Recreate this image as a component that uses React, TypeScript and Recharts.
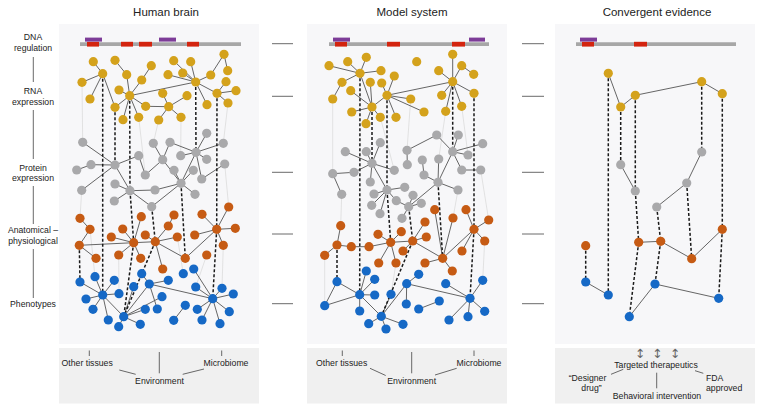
import { ScatterChart, Scatter, XAxis, YAxis, ReferenceArea, ReferenceLine } from 'recharts'

type XY = [number, number]
type Link = [number, number]
type Layer = 'rna' | 'prot' | 'anat' | 'pheno'
type Bridge = [Layer, number, Layer, number]

// ---- text ----
const panelTitles = ['Human brain', 'Model system', 'Convergent evidence']
const levelLabels = [['DNA', 'regulation'], ['RNA', 'expression'], ['Protein', 'expression'], ['Anatomical –', 'physiological'], ['Phenotypes']]
const contextLabels = ['Other tissues', 'Environment', 'Microbiome']
const therapyLabels = ['Targeted therapeutics', 'Behavioral intervention', '“Designer', 'drug”', 'FDA', 'approved']

// ---- DNA tracks: [start, end] along the strand ----
const humanDna = { strand: [80, 241] as XY, enhancers: [[85, 102], [159, 176]] as XY[], variants: [[87, 99], [121, 133], [139, 152], [187, 199]] as XY[] }
const modelDna = { strand: [329, 489] as XY, enhancers: [[333, 350], [469, 485]] as XY[], variants: [[335, 347], [387, 400], [452, 465]] as XY[] }
const convDna = { strand: [576, 736] as XY, enhancers: [[580, 597]] as XY[], variants: [[582, 594], [634, 647]] as XY[] }

// ---- human brain network ----
const humanRna: XY[] = [
  [93.3, 61.7], [102.7, 73.7], [82, 82.3], [90, 99], [115, 60.3], [126.7, 74.7], [151.3, 65.7], [141.7, 80],
  [119, 90], [129.7, 95.7], [115, 107.3], [123, 119.7], [138.7, 117.3], [145.7, 106.3], [162.7, 93.3], [168.7, 106.7],
  [187, 95.7], [181, 117.3], [158.7, 120], [173.7, 60.7], [190.7, 61.7], [168, 74.7], [182.7, 73], [195.7, 82],
  [210.7, 75], [224, 54.3], [227.7, 70.7], [226, 81.7], [217, 93.3], [236, 90.7], [228, 103], [207, 104.7],
]
const humanProt: XY[] = [
  [82.7, 142.3], [76.7, 170], [91, 164.7], [81.7, 190.3], [115, 165], [138.7, 155.7], [115, 184], [114.3, 201],
  [130, 190.7], [145.3, 175], [153.3, 143.3], [170, 142.3], [162.7, 159.7], [174, 170.3], [155, 190], [151.7, 206.7],
  [181, 183.3], [195, 194.3], [193.3, 170.3], [180.7, 155.7], [196, 152.3], [206.7, 133.3], [223.3, 143.3], [206.7, 159.3],
  [201.7, 179], [224.7, 164],
]
const humanAnat: XY[] = [
  [80, 218.3], [90, 229.3], [79.3, 245.3], [96, 258.3], [111.3, 237], [122.7, 229], [118.7, 255], [141.3, 216.7],
  [145.3, 235], [133.7, 242.7], [140.7, 258.3], [155.3, 241.7], [168.3, 226], [174, 215], [177.3, 237], [162.7, 269],
  [185.3, 258.3], [202, 214.3], [194.7, 235], [216.7, 229.3], [228.7, 207], [235.3, 228.3], [223.3, 245.3], [206.7, 255],
]
const humanPheno: XY[] = [
  [80, 282], [95, 276.7], [114.3, 280.3], [102.7, 295], [86, 299], [93, 309.3], [108.3, 320], [119, 293.7],
  [123.7, 316.7], [118.7, 326.7], [140.3, 324.3], [145.3, 309.3], [133.7, 286.7], [141.7, 273.7], [149.3, 284], [168.3, 280.3],
  [162, 296.7], [157.3, 309], [183.3, 273.7], [193.7, 269], [195.7, 287], [212.7, 298.7], [222, 288.3], [233.3, 294],
  [229.3, 311.7], [220, 323.7], [202, 320], [197.3, 309.3], [185.3, 305.3], [173.7, 320.3],
]
const humanLinks: Record<Layer, Link[]> = {
  rna: [[1, 0], [1, 2], [1, 3], [1, 10], [4, 5], [5, 9], [6, 7], [7, 9], [8, 9], [9, 10], [9, 11], [9, 12], [9, 13], [9, 23], [13, 15],
    [15, 14], [15, 16], [15, 17], [15, 18], [23, 19], [23, 20], [23, 21], [23, 22], [23, 24], [23, 28], [23, 31], [24, 25], [25, 26],
    [28, 27], [28, 29], [28, 30]],
  prot: [[4, 0], [4, 2], [2, 1], [4, 3], [4, 5], [4, 8], [8, 6], [8, 7], [8, 14], [8, 15], [5, 9], [9, 12], [12, 10], [12, 11],
    [12, 16], [16, 13], [16, 14], [16, 15], [16, 17], [16, 18], [16, 20], [20, 19], [20, 21], [20, 22], [20, 23], [20, 11], [20, 24], [24, 25]],
  anat: [[2, 1], [1, 0], [2, 3], [2, 9], [9, 4], [9, 5], [9, 6], [9, 7], [9, 10], [9, 11], [11, 8], [11, 12], [12, 13], [11, 14],
    [11, 15], [11, 16], [16, 19], [19, 17], [19, 18], [19, 20], [19, 21], [19, 22]],
  pheno: [[3, 0], [3, 1], [3, 2], [3, 4], [3, 5], [3, 6], [3, 7], [3, 8], [8, 9], [8, 10], [8, 11], [8, 12], [8, 14], [8, 16],
    [14, 13], [14, 15], [14, 17], [14, 21], [21, 19], [21, 20], [21, 22], [21, 23], [21, 24], [21, 25], [21, 26], [21, 27], [28, 29]],
}
const humanBridges: Bridge[] = [
  ['rna', 1, 'pheno', 3], ['rna', 10, 'prot', 4], ['rna', 9, 'prot', 8], ['prot', 8, 'anat', 9], ['anat', 9, 'pheno', 8],
  ['prot', 15, 'anat', 11], ['anat', 11, 'pheno', 8], ['rna', 23, 'prot', 20], ['prot', 16, 'anat', 16], ['rna', 28, 'anat', 19],
  ['anat', 19, 'pheno', 21], ['anat', 2, 'pheno', 0],
]
const humanFaint: Bridge[] = [
  ['rna', 2, 'prot', 0], ['prot', 3, 'anat', 0], ['rna', 18, 'prot', 10], ['rna', 17, 'prot', 19], ['rna', 30, 'prot', 22],
  ['prot', 25, 'anat', 20], ['anat', 1, 'pheno', 1], ['anat', 22, 'pheno', 22], ['anat', 23, 'pheno', 20], ['anat', 14, 'pheno', 18],
  ['anat', 6, 'pheno', 7], ['rna', 12, 'prot', 9],
]

// ---- model system network ----
const modelRna: XY[] = [
  [329, 65.7], [347.7, 61.7], [366.3, 57.3], [360, 73.3], [381, 70.7], [342, 82.3], [332.7, 99], [350.7, 90.7],
  [370.3, 82.3], [381.7, 83], [394.3, 76], [387, 95.3], [372, 107], [351.7, 112], [366, 123.7], [380.3, 117.3],
  [396, 117.3], [410.7, 99], [424, 112], [416.7, 61.7], [438.7, 70.7], [452.7, 54.3], [461.7, 65.7], [473.7, 74.3],
  [452.7, 81.7], [474, 93.3], [441.7, 95.3], [445.7, 111.3], [461.7, 106.3],
]
const modelProt: XY[] = [
  [345.3, 151.7], [332.7, 173.7], [341.7, 194.3], [354, 172.3], [366.3, 151.7], [380.3, 142.7], [372, 163.3], [394.3, 170.3],
  [370.3, 182], [387, 190], [374, 194], [371.7, 205.3], [380, 213.7], [396.3, 200.7], [404.7, 187.3], [408.7, 206.7],
  [413, 195.3], [421.3, 203.3], [402, 218.3], [407, 150.3], [407.3, 164.7], [436.7, 135], [422.3, 160], [424, 175],
  [438.7, 159], [438, 182.3], [458, 190], [452.7, 151.7], [458.3, 135], [482.7, 143.7], [468, 155], [461.7, 170], [480.7, 170],
]
const modelAnat: XY[] = [
  [340.7, 225.7], [337, 245], [324.7, 255.3], [351.3, 246.7], [369, 246.7], [378, 234.3], [390.7, 242.3], [401.3, 231.7],
  [378.7, 263], [396, 263], [403, 251], [412.7, 241], [425, 222], [426.3, 237], [442.7, 258.3], [434.7, 209.7],
  [453, 218], [425, 263], [452.3, 271], [462, 251], [474, 229.3], [466, 209.7], [488.7, 220], [484.7, 241],
]
const modelPheno: XY[] = [
  [337, 281.7], [324.7, 305.7], [359.7, 294.7], [366.3, 271], [374.7, 279.3], [374.7, 295], [359.7, 311], [381.3, 316.3],
  [368.7, 323.7], [386, 329], [403, 324.3], [391, 294.3], [406.7, 283.7], [418.7, 274.3], [406.3, 304], [418.7, 309],
  [439.3, 301], [445.7, 283.7], [470, 298.3], [482.7, 280.3], [484.7, 311.3], [468, 316.7], [449, 320],
]
const modelLinks: Record<Layer, Link[]> = {
  rna: [[3, 0], [3, 1], [3, 2], [3, 4], [3, 5], [5, 6], [3, 12], [12, 7], [12, 8], [12, 13], [12, 14], [12, 15], [12, 11], [11, 9],
    [11, 10], [11, 16], [11, 17], [11, 18], [11, 24], [24, 20], [24, 21], [24, 22], [22, 23], [24, 25], [24, 26], [24, 27], [24, 28]],
  prot: [[6, 0], [6, 4], [6, 5], [6, 3], [3, 1], [1, 2], [6, 7], [6, 8], [6, 9], [9, 10], [9, 11], [9, 12], [9, 13], [9, 14],
    [15, 13], [15, 16], [15, 17], [15, 18], [15, 25], [19, 20], [19, 21], [21, 27], [22, 23], [23, 25], [25, 24], [25, 26], [25, 27],
    [27, 28], [27, 29], [27, 30], [27, 31], [31, 32]],
  anat: [[1, 0], [1, 2], [1, 3], [3, 4], [4, 6], [6, 5], [6, 7], [6, 8], [6, 9], [6, 11], [11, 10], [11, 12], [11, 13], [11, 14],
    [14, 15], [14, 16], [14, 17], [14, 18], [14, 20], [20, 19], [20, 21], [20, 22], [20, 23]],
  pheno: [[0, 1], [0, 2], [1, 2], [2, 3], [2, 4], [2, 5], [2, 6], [2, 7], [7, 8], [7, 9], [7, 10], [7, 11], [7, 12], [12, 13],
    [12, 14], [15, 16], [12, 18], [18, 17], [18, 19], [18, 20], [18, 21], [18, 22]],
}
const modelBridges: Bridge[] = [
  ['rna', 3, 'pheno', 2], ['rna', 12, 'prot', 6], ['rna', 11, 'prot', 9], ['prot', 9, 'anat', 6], ['prot', 15, 'anat', 11],
  ['anat', 11, 'pheno', 7], ['rna', 24, 'prot', 27], ['rna', 25, 'anat', 20], ['anat', 20, 'pheno', 18], ['prot', 25, 'anat', 14],
  ['anat', 1, 'pheno', 0],
]
const modelFaint: Bridge[] = [
  ['rna', 6, 'prot', 1], ['prot', 2, 'anat', 0], ['rna', 17, 'prot', 19], ['rna', 27, 'prot', 24], ['rna', 28, 'prot', 30],
  ['prot', 32, 'anat', 22], ['anat', 23, 'pheno', 19], ['anat', 17, 'pheno', 13], ['anat', 2, 'pheno', 1], ['anat', 9, 'pheno', 11],
  ['prot', 26, 'anat', 16], ['rna', 15, 'prot', 7],
]

// ---- convergent evidence ----
const convRna: XY[] = [[608.3, 73.3], [620.7, 107], [635.3, 95.3], [701.7, 81.7], [722.3, 93.7]]
const convProt: XY[] = [[620.7, 164.7], [635.3, 191], [656.7, 207], [686.7, 183], [701.7, 152]]
const convAnat: XY[] = [[585.7, 245.7], [638.7, 242.3], [660.7, 241.3], [691.7, 258.7], [722.3, 229.3]]
const convPheno: XY[] = [[585.7, 282], [608.3, 295], [629.3, 316.7], [655, 284], [718.7, 298.3]]
const convLinks: Record<Layer, Link[]> = {
  rna: [[0, 1], [1, 2], [2, 3], [3, 4]],
  prot: [[0, 1], [2, 3], [3, 4]],
  anat: [[1, 2], [2, 3], [3, 4]],
  pheno: [[0, 1], [2, 3], [3, 4]],
}
const convBridges: Bridge[] = [
  ['rna', 0, 'pheno', 1], ['rna', 1, 'prot', 0], ['rna', 2, 'prot', 1], ['prot', 1, 'anat', 1], ['anat', 1, 'pheno', 2],
  ['rna', 3, 'prot', 4], ['prot', 3, 'anat', 3], ['prot', 2, 'anat', 2], ['anat', 2, 'pheno', 3], ['rna', 4, 'anat', 4],
  ['anat', 4, 'pheno', 4], ['anat', 0, 'pheno', 0],
]

// ---- layout ----
const W = 762
const H = 410
const FONT = '"Liberation Sans", Arial, Helvetica, sans-serif'
const GOLD = '#d4a21c'
const GREY = '#a9a9ab'
const ORANGE = '#c65b14'
const BLUE = '#1669c6'
const panelX: XY[] = [[59, 259], [307, 507], [555, 755]]
const panelY: XY = [24, 344]
const footY: XY = [348, 403.5]
const gapTicks: XY[] = [[272, 293], [522, 544]]
const levelY = [43.7, 96.3, 172.3, 234, 303.7]
const spine: XY[] = [[57, 82], [110, 159], [186, 224], [249, 298]]

const humanLayers: Record<Layer, XY[]> = { rna: humanRna, prot: humanProt, anat: humanAnat, pheno: humanPheno }
const modelLayers: Record<Layer, XY[]> = { rna: modelRna, prot: modelProt, anat: modelAnat, pheno: modelPheno }
const convLayers: Record<Layer, XY[]> = { rna: convRna, prot: convProt, anat: convAnat, pheno: convPheno }

type Seg = [XY, XY]
const linkSegs = (layers: Record<Layer, XY[]>, links: Record<Layer, Link[]>): Seg[] =>
  (Object.keys(links) as Layer[]).flatMap((k) => links[k].map(([a, b]) => [layers[k][a], layers[k][b]] as Seg))
const bridgeSegs = (layers: Record<Layer, XY[]>, bridges: Bridge[]): Seg[] =>
  bridges.map(([la, a, lb, b]) => [layers[la][a], layers[lb][b]] as Seg)

const solidSegs = [
  ...linkSegs(humanLayers, humanLinks), ...linkSegs(modelLayers, modelLinks), ...linkSegs(convLayers, convLinks),
]
const dashedSegs = [
  ...bridgeSegs(humanLayers, humanBridges), ...bridgeSegs(modelLayers, modelBridges), ...bridgeSegs(convLayers, convBridges),
]
const faintSegs = [...bridgeSegs(humanLayers, humanFaint), ...bridgeSegs(modelLayers, modelFaint)]

// small strokes in the footers and label spine
const footStrokes: Seg[] = [
  [[89.3, 350.5], [89.3, 356]], [[221.7, 350.5], [221.7, 356]], [[159.3, 352], [159.3, 373.3]],
  [[119.3, 370], [135.7, 374.3]], [[182.7, 374.3], [204, 369]],
  [[342.3, 350.5], [342.3, 356]], [[474, 350.5], [474, 356]], [[411.7, 352], [411.7, 373.3]],
  [[370, 368.3], [385.7, 375.5]], [[435, 375], [456.7, 368.3]],
  [[611, 374.3], [623.3, 369.3]], [[656.7, 372.7], [656.7, 388.3]], [[695, 370.7], [703.3, 373.3]],
]
const tickStrokes: Seg[] = [
  ...spine.map(([a, b]) => [[33.3, a], [33.3, b]] as Seg),
  ...gapTicks.flatMap(([a, b]) => levelY.map((y) => [[a, y], [b, y]] as Seg)),
]

type Label = { x: number; y: number; text: string; size: number; anchor: 'start' | 'middle' | 'end'; color?: string }
const labels: Label[] = [
  ...panelTitles.map((t, i) => ({ x: [166, 412, 657][i], y: 12, text: t, size: 11.5, anchor: 'middle' as const })),
  ...levelLabels.flatMap((lines, i) =>
    lines.map((t, j) => ({ x: 33, y: [[37.3, 47.7], [91, 101.7], [167.7, 178.3], [230, 241], [304.3]][i][j], text: t, size: 8.7, anchor: 'middle' as const }))),
  ...[0, 1].flatMap((p) =>
    contextLabels.map((t, i) => ({ x: [[87.2, 159.5, 226], [341.7, 411.7, 479]][p][i], y: [362.7, 380.7, 362.7][i], text: t, size: 8.7, anchor: 'middle' as const }))),
  ...therapyLabels.map((t, i) => ({
    x: [656, 657, 587.5, 591.5, 706, 706][i],
    y: [365, 395.7, 378.3, 388.3, 378.3, 388.3][i],
    text: t, size: 8.7, anchor: (i >= 4 ? 'start' : 'middle') as 'start' | 'middle',
  })),
  ...[640, 657.3, 675].map((x) => ({ x, y: 353, text: '↕', size: 12.5, anchor: 'middle' as const, color: '#666' })),
]

const toPts = (arr: XY[]) => arr.map(([x, y]) => ({ x, y }))
const goldPts = toPts([...humanRna, ...modelRna, ...convRna])
const greyPts = toPts([...humanProt, ...modelProt, ...convProt])
const orangePts = toPts([...humanAnat, ...modelAnat, ...convAnat])
const bluePts = toPts([...humanPheno, ...modelPheno, ...convPheno])

const node = (color: string) => (p: any) => <circle cx={p.cx} cy={p.cy} r={4.6} fill={color} />
const textShape = (p: any) => {
  const d = p.payload ?? p
  return (
    <text x={p.cx} y={p.cy} textAnchor={d.anchor} dominantBaseline="central" fontSize={d.size}
      fontFamily={d.text === '↕' ? '"DejaVu Sans", sans-serif' : FONT} fill={d.color ?? '#222'}>
      {d.text}
    </text>
  )
}

const line = (s: Seg, key: string, stroke: string, width: number, dash?: string) => (
  <ReferenceLine
    key={key}
    segment={[{ x: s[0][0], y: s[0][1] }, { x: s[1][0], y: s[1][1] }]}
    stroke={stroke}
    strokeWidth={width}
    strokeDasharray={dash}
    ifOverflow="visible"
  />
)

const dnaRects = (dna: { strand: XY; enhancers: XY[]; variants: XY[] }, key: string) => [
  <ReferenceArea key={key + 's'} x1={dna.strand[0]} x2={dna.strand[1]} y1={42.2} y2={46} fill="#a7a7a7" fillOpacity={1} stroke="none" ifOverflow="visible" />,
  ...dna.variants.map(([a, b], i) => (
    <ReferenceArea key={key + 'v' + i} x1={a} x2={b} y1={41.8} y2={46.6} fill="#d3240f" fillOpacity={1} stroke="none" ifOverflow="visible" />
  )),
  ...dna.enhancers.map(([a, b], i) => (
    <ReferenceArea key={key + 'e' + i} x1={a} x2={b} y1={37.6} y2={41.6} fill="#7d3c98" fillOpacity={1} stroke="none" ifOverflow="visible" />
  )),
]

export default function App() {
  return (
    <div style={{ position: 'absolute', left: 0, top: 0, width: W, height: H, background: '#fff' }}>
      <ScatterChart width={W} height={H} margin={{ top: 0, right: 0, bottom: 0, left: 0 }}>
        <XAxis type="number" dataKey="x" domain={[0, W]} allowDataOverflow hide />
        <YAxis type="number" dataKey="y" domain={[0, H]} allowDataOverflow reversed hide />
        {panelX.map(([a, b], i) => (
          <ReferenceArea key={'p' + i} x1={a} x2={b} y1={panelY[0]} y2={panelY[1]} fill="#f7f7f9" fillOpacity={1} stroke="none" ifOverflow="visible" />
        ))}
        {panelX.map(([a, b], i) => (
          <ReferenceArea key={'f' + i} x1={a} x2={b} y1={footY[0]} y2={footY[1]} fill="#f0f0f0" fillOpacity={1} stroke="none" ifOverflow="visible" />
        ))}
        {dnaRects(humanDna, 'h')}
        {dnaRects(modelDna, 'm')}
        {dnaRects(convDna, 'c')}
        {faintSegs.map((s, i) => line(s, 'fa' + i, '#dcdcdc', 0.8))}
        {solidSegs.map((s, i) => line(s, 'so' + i, '#555', 0.9))}
        {dashedSegs.map((s, i) => line(s, 'da' + i, '#1a1a1a', 1.5, '3 2'))}
        {footStrokes.map((s, i) => line(s, 'ft' + i, '#444', 0.8))}
        {tickStrokes.map((s, i) => line(s, 'tk' + i, '#444', 0.8))}
        <Scatter data={goldPts} shape={node(GOLD)} isAnimationActive={false} />
        <Scatter data={greyPts} shape={node(GREY)} isAnimationActive={false} />
        <Scatter data={orangePts} shape={node(ORANGE)} isAnimationActive={false} />
        <Scatter data={bluePts} shape={node(BLUE)} isAnimationActive={false} />
        <Scatter data={labels} shape={textShape} isAnimationActive={false} />
      </ScatterChart>
    </div>
  )
}
